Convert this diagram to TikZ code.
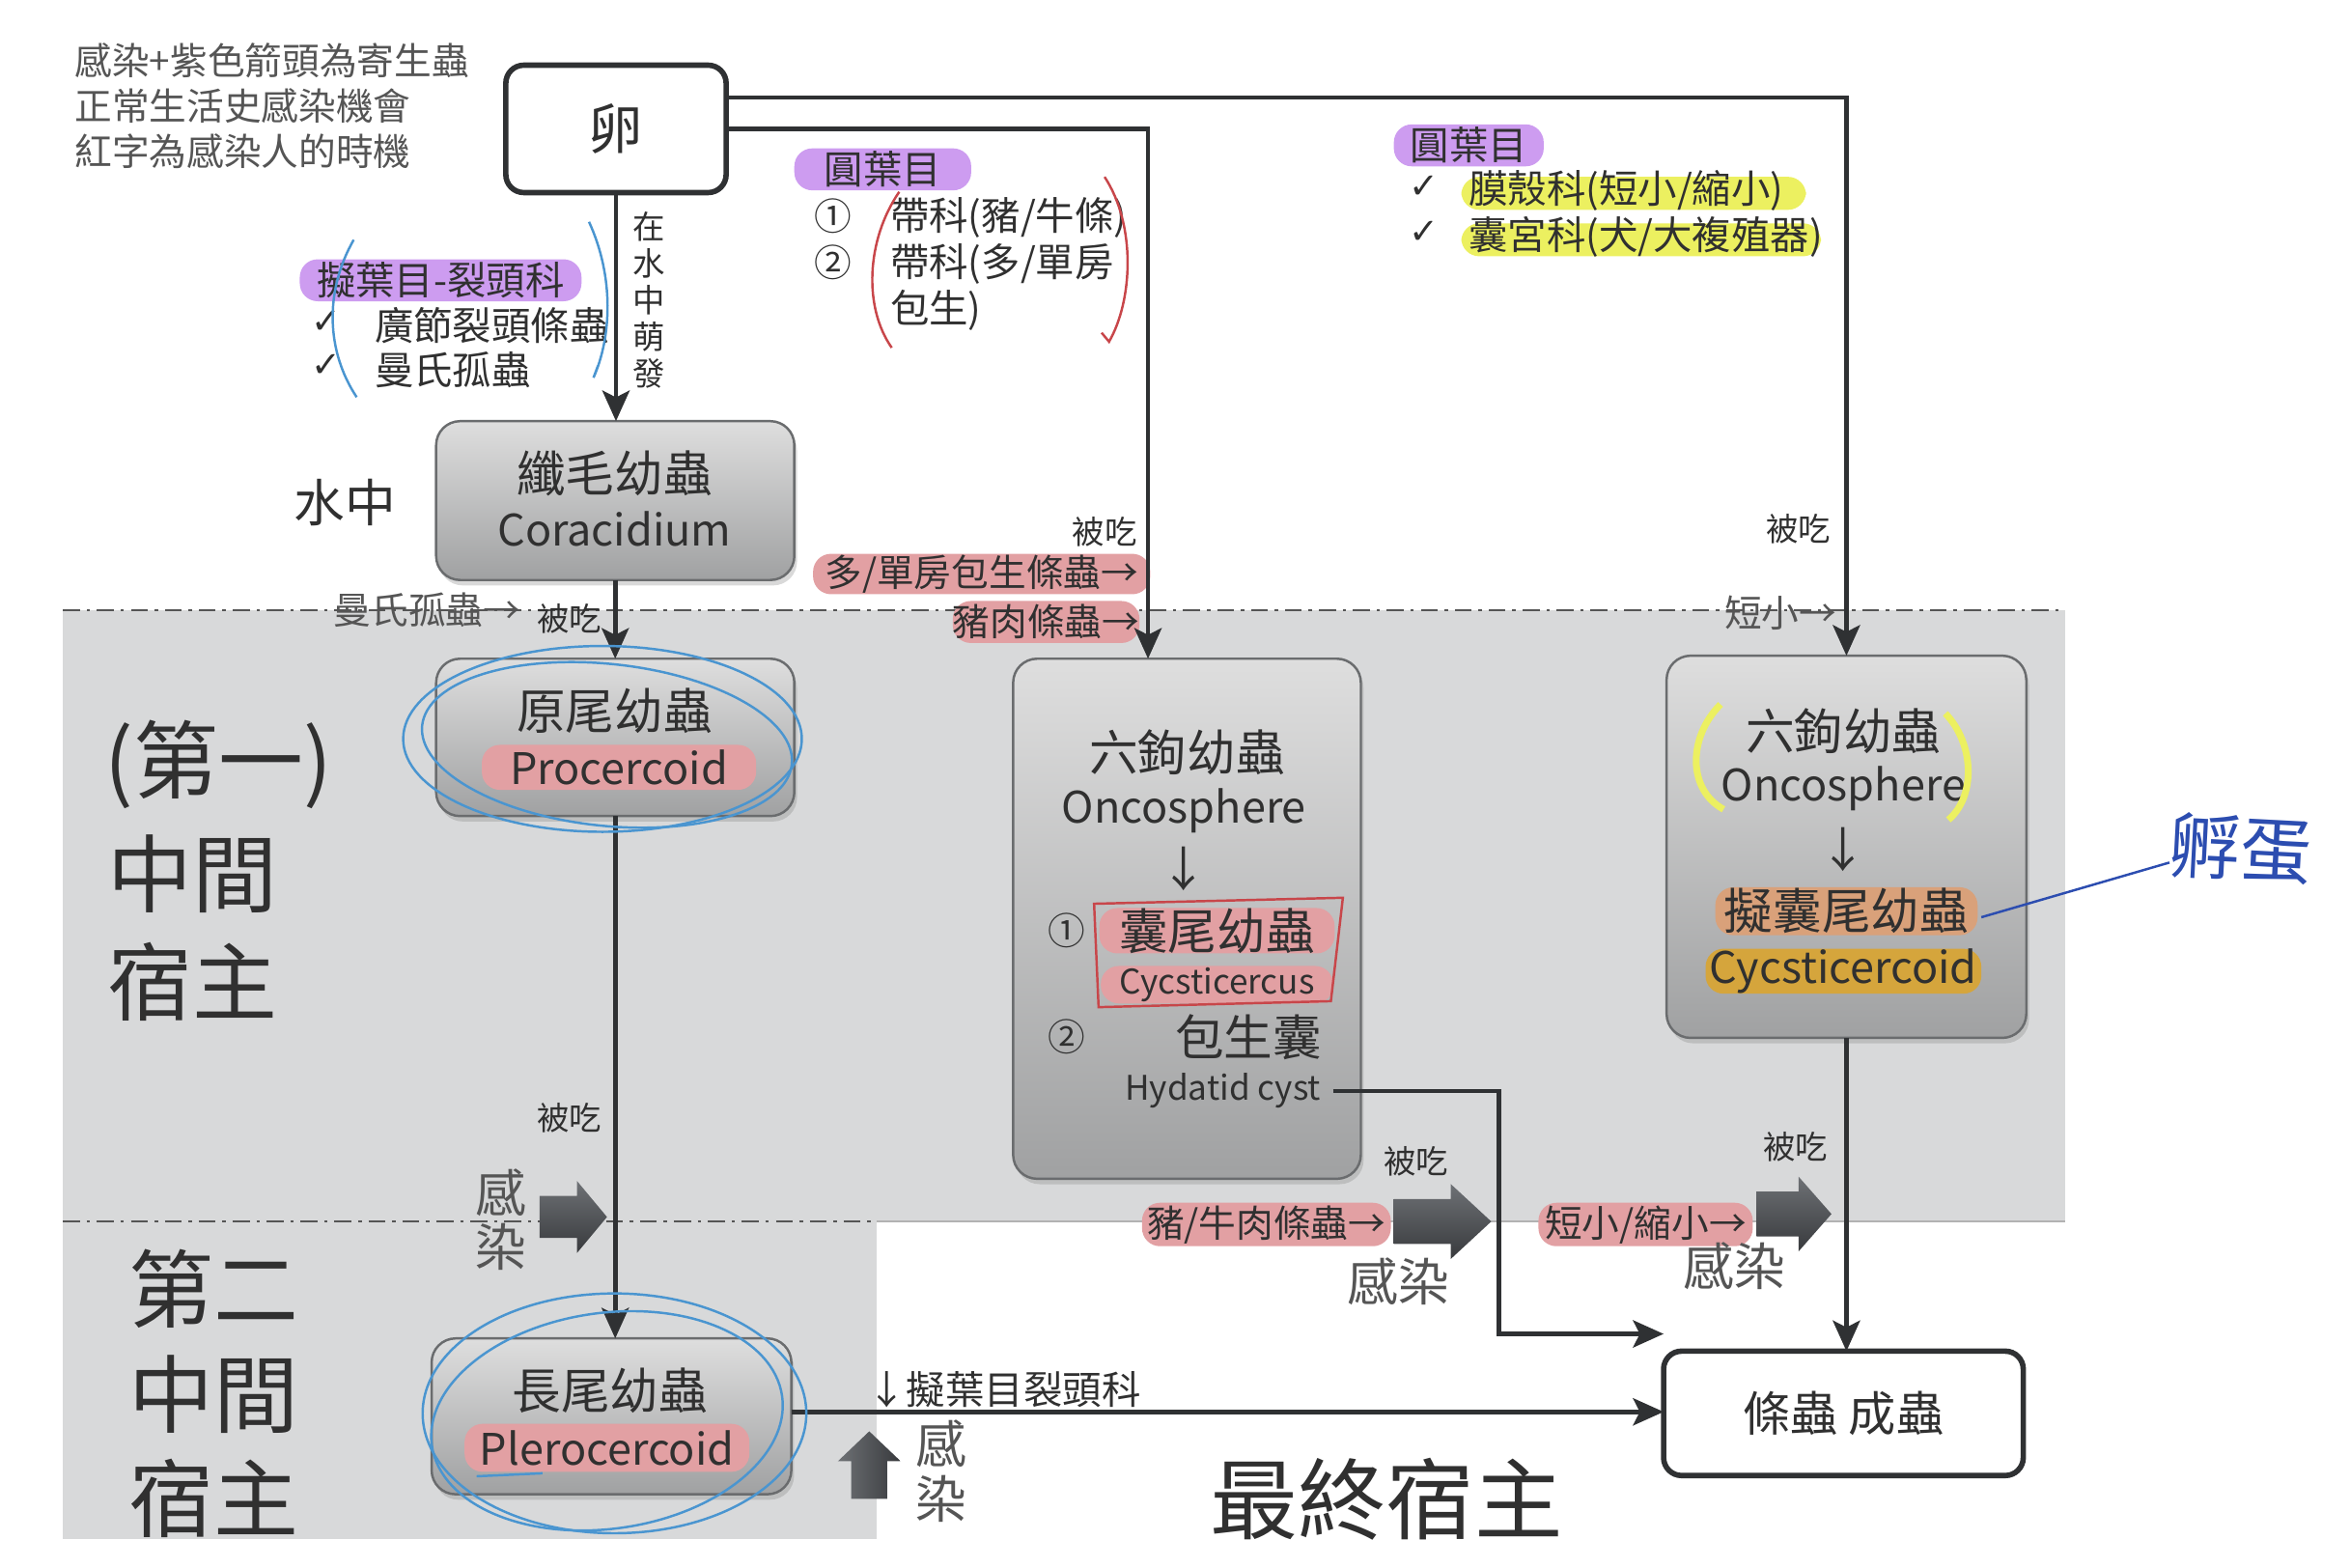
\documentclass[tikz,border=0pt]{standalone}
\usepackage{fontspec}
\setmainfont{Noto Sans CJK TC}
\newfontfamily\dejavu{DejaVu Sans}
\usetikzlibrary{arrows.meta,shadows}
\definecolor{txt}{HTML}{303030}
\definecolor{soft}{HTML}{555555}
\definecolor{bgc}{HTML}{D8D9DA}
\definecolor{linec}{HTML}{2F3133}
\definecolor{boxtop}{HTML}{DEDEDE}
\definecolor{boxbot}{HTML}{A0A1A2}
\definecolor{boxedge}{HTML}{6A6C6E}
\definecolor{pinkhl}{HTML}{E2A0A3}
\definecolor{purphl}{HTML}{CD9CF0}
\definecolor{yelhl}{HTML}{ECF060}
\definecolor{orahl}{HTML}{D9A17A}
\definecolor{goldhl}{HTML}{D5A53C}
\definecolor{penblue}{HTML}{4A95D0}
\definecolor{inkblue}{HTML}{2C4DB0}
\definecolor{redpen}{HTML}{C8464A}
\definecolor{bartop}{HTML}{6E7175}
\definecolor{barbot}{HTML}{383A3D}
\newlength\pu
\setlength\pu{0.015523cm}
\newcommand\fs[2]{\fontsize{#1}{#2}\selectfont}
\newcommand\blockR[6]{\shade[top color=bartop,bottom color=barbot] (#1-#3,#2-#6/2) -- (#1-#4,#2-#6/2) -- (#1-#4,#2-#5/2) -- (#1,#2) -- (#1-#4,#2+#5/2) -- (#1-#4,#2+#6/2) -- (#1-#3,#2+#6/2) -- cycle;}
\newcommand\blockU[6]{\shade[left color=bartop,right color=barbot] (#1-#6/2,#2+#3) -- (#1-#6/2,#2+#4) -- (#1-#5/2,#2+#4) -- (#1,#2) -- (#1+#5/2,#2+#4) -- (#1+#6/2,#2+#4) -- (#1+#6/2,#2+#3) -- cycle;}
\tikzset{
  every node/.style={text=txt, inner sep=0pt, outer sep=0pt},
  arr/.style={draw=linec, line width=1.3pt, -{Stealth[length=9pt,width=8pt,inset=2pt]}},
  ddline/.style={draw=soft, line width=0.6pt, dash pattern=on 5pt off 2pt on 1pt off 2pt},
  gbox/.style={draw=boxedge, line width=0.7pt, rounded corners=16\pu, top color=boxtop, bottom color=boxbot, drop shadow={opacity=0.3, shadow xshift=0.8pt, shadow yshift=-1.6pt}},
  wbox/.style={draw=linec, line width=1.6pt, rounded corners=12\pu, fill=white},
  hl/.style={fill=#1, rounded corners=12\pu},
  pen/.style={draw=#1, line width=0.7pt},
  small/.style={font=\fs{9.5}{11}},
  lab/.style={font=\fs{11.5}{13}},
  big/.style={font=\fs{25}{30}},
  inf/.style={font=\fs{15}{18}, text=soft},
  chk/.style={font=\dejavu\fs{10.5}{12}},
  latin/.style={font=\fs{12.8}{15}},
}
\begin{document}
\begin{tikzpicture}[x=0.015523cm,y=-0.015523cm]
\useasboundingbox (0,0) rectangle (1568,1046);
\begin{scope}
\clip (0,0) rectangle (1568,1027);
% background regions
\fill[bgc] (42,407) rectangle (1378,815);
\fill[bgc] (42,815) rectangle (585,1027);
\draw[ddline] (42,407) -- (1378,407);
\draw[ddline] (42,815) -- (585,815);
\draw[draw=gray!60, line width=0.5pt] (585,815) -- (1378,815);

% top-left note
\node[anchor=north west, align=left, text=soft, font=\fs{11}{13.3}] (note) at (50,29) {感染+紫色箭頭為寄生蟲\\正常生活史感染機會\\紅字為感染人的時機};

% main boxes
\node[wbox, minimum width=147\pu, minimum height=85\pu, font=\fs{16}{19}] (egg) at (411,86) {卵};
\node[gbox, minimum width=239\pu, minimum height=106\pu] (cora) at (410.5,334) {};
\node[gbox, minimum width=239\pu, minimum height=105\pu] (proc) at (410.5,492) {};
\node[gbox, minimum width=240\pu, minimum height=104\pu] (pler) at (408,945) {};
\node[gbox, minimum width=232\pu, minimum height=347\pu] (onco1) at (792,613) {};
\node[gbox, minimum width=240\pu, minimum height=255\pu] (onco2) at (1232,565) {};
\node[wbox, minimum width=240\pu, minimum height=83\pu, font=\fs{14}{17}] (adult) at (1230,943) {條蟲 成蟲};

% box contents
\node[font=\fs{14.4}{17}] (cora1) at (410,316) {纖毛幼蟲};
\node[latin] (cora2) at (410,353) {Coracidium};
\node[font=\fs{14.4}{17}] (proc1) at (410,474) {原尾幼蟲};
\node[hl=pinkhl, minimum width=183\pu, minimum height=30\pu, latin] (proc2) at (413,512) {Procercoid};
\node[font=\fs{14.4}{17}] (pler1) at (407,928) {長尾幼蟲};
\node[hl=pinkhl, minimum width=190\pu, minimum height=32\pu, latin] (pler2) at (405,966) {Plerocercoid};

\node[font=\fs{14.4}{17}] (o1a) at (792,502) {六鉤幼蟲};
\node[latin] (o1b) at (790,541) {Oncosphere};
\node[font=\fs{14}{16}] (o1c) at (790,580) {↓};
\node[font=\fs{11}{13}] (o1n1) at (712,621) {①};
\node[hl=pinkhl, minimum width=157\pu, minimum height=30\pu, font=\fs{14.4}{17}] (cys1) at (812,621) {囊尾幼蟲};
\node[hl=pinkhl, minimum width=155\pu, minimum height=25\pu, font=\fs{10}{12}] (cys2) at (812,657) {Cycsticercus};
\node[font=\fs{11}{13}] (o1n2) at (712,692) {②};
\node[font=\fs{14.4}{17}] (hyd1) at (833,692) {包生囊};
\node[font=\fs{10}{12}] (hyd) at (816,728) {Hydatid cyst};

\node[font=\fs{14.4}{17}] (o2a) at (1230,488) {六鉤幼蟲};
\node[latin] (o2b) at (1230,526) {Oncosphere};
\node[font=\fs{14}{16}] (o2c) at (1230,567) {↓};
\node[hl=orahl, minimum width=175\pu, minimum height=32\pu, font=\fs{14.4}{17}] (cyd1) at (1232,608) {擬囊尾幼蟲};
\node[hl=goldhl, minimum width=184\pu, minimum height=30\pu, latin] (cyd2) at (1230,648) {Cycsticercoid};

% lists
\node[hl=purphl, minimum width=188\pu, minimum height=28\pu, lab] (ord1) at (294,187) {擬葉目-裂頭科};
\node[chk] (ck1) at (218,215) {✓};
\node[anchor=west, lab] (sp1) at (250,217) {廣節裂頭條蟲};
\node[chk] (ck2) at (218,244) {✓};
\node[anchor=west, lab] (sp2) at (250,247) {曼氏孤蟲};

\node[hl=purphl, minimum width=118\pu, minimum height=28\pu, lab] (ord2) at (589,113) {圓葉目};
\node[font=\fs{11}{13}] (c1) at (556,144) {①};
\node[font=\fs{11}{13}] (c2) at (556,175) {②};
\node[anchor=west, lab] (t1) at (594,145) {帶科(豬/牛條)};
\node[anchor=west, lab] (t2) at (594,176) {帶科(多/單房};
\node[anchor=west, lab] (t3) at (594,207) {包生)};

\node[hl=yelhl, minimum width=230\pu, minimum height=22\pu] (y1) at (1090,129) {};
\node[hl=yelhl, minimum width=240\pu, minimum height=22\pu] (y2) at (1095,160) {};
\node[hl=purphl, minimum width=100\pu, minimum height=28\pu, lab] (ord3) at (980,97) {圓葉目};
\node[chk] (ck3) at (950,125) {✓};
\node[chk] (ck4) at (950,155) {✓};
\node[anchor=west, lab] (t4) at (980,127) {膜殼科(短小/縮小)};
\node[anchor=west, lab] (t5) at (980,158) {囊宮科(犬/大複殖器)};

% side labels
\node[align=center, font=\fs{9.5}{10.8}] (v1) at (433,200) {在\\水\\中\\萌\\發};
\node[font=\fs{15}{18}] (water) at (230,335) {水中};
\node[anchor=west, big] (h1a) at (70,510) {(第一)};
\node[anchor=west, big] (h1b) at (72,583) {中間};
\node[anchor=west, big] (h1c) at (72,655) {宿主};
\node[anchor=west, big] (h2a) at (86,860) {第二};
\node[anchor=west, big] (h2b) at (86,930) {中間};
\node[anchor=west, big] (h2c) at (86,1000) {宿主};
\node[font=\fs{26}{30}] (fin) at (925,1000) {最終宿主};

% small labels
\node[small] (e1) at (380,413) {被吃};
\node[small] (e2) at (737,355) {被吃};
\node[small] (e3) at (1200,353) {被吃};
\node[small] (e4) at (380,746) {被吃};
\node[small] (e5) at (945,775) {被吃};
\node[small] (e6) at (1198,765) {被吃};
\node[font=\fs{11}{13}, text=soft] (m1) at (285,407) {曼氏孤蟲→};
\node[font=\fs{11}{13}, text=soft] (m2) at (1188,409) {短小→};
\node[hl=pinkhl, minimum width=225\pu, minimum height=27\pu, font=\fs{11}{13}] (pk1) at (655,383) {多/單房包生條蟲→};
\node[hl=pinkhl, minimum width=122\pu, minimum height=28\pu, font=\fs{11}{13}] (pk2) at (698,415) {豬肉條蟲→};
\node[hl=pinkhl, minimum width=166\pu, minimum height=29\pu, font=\fs{11}{13}] (pk3) at (845,817) {豬/牛肉條蟲→};
\node[hl=pinkhl, minimum width=143\pu, minimum height=29\pu, font=\fs{11}{13}] (pk4) at (1098,817) {短小/縮小→};
\node[lab] (dn) at (670,927) {↓擬葉目裂頭科};
\node[inf] (i1a) at (334,796) {感};
\node[inf] (i1b) at (334,832) {染};
\node[inf] (i2a) at (628,963) {感};
\node[inf] (i2b) at (628,1000) {染};
\node[inf] (i3) at (933,855) {感染};
\node[inf] (i4) at (1157,845) {感染};

% block arrows
\blockR{405}{812}{45}{20}{48}{28}
\blockR{995}{815}{65}{27}{50}{30}
\blockR{1222}{810}{50}{22}{50}{30}
\blockU{580}{955}{45}{20}{42}{24}

% connectors
\draw[arr] (egg.south) -- (egg.south |- cora.north);
\draw[arr] (egg.east |- 0,65) -| (onco2.north);
\draw[arr] (egg.east |- 0,86) -| (onco1.north -| 766,0);
\draw[arr] (cora.south) -- (proc.north);
\draw[arr] (proc.south) -- (proc.south |- pler.north);
\draw[arr] (pler.east |- 0,942) -- (adult.west |- 0,942);
\coordinate (hyk) at (1000,890);
\draw[arr] ([xshift=8\pu]hyd.east) -| (hyk) -- (hyk -| adult.west);
\draw[arr] (onco2.south) -- (onco2.south |- adult.north);

% hand annotations
\draw[pen=penblue] (236,160) .. controls (216,195) and (218,235) .. (238,265);
\draw[pen=penblue] (393,148) .. controls (410,185) and (408,225) .. (396,252) -- (399,244);
\draw[pen=redpen] (600,128) .. controls (578,160) and (576,205) .. (595,232);
\draw[pen=redpen] (737,118) .. controls (758,150) and (756,200) .. (740,228) -- (735,222);
\draw[pen=redpen] (730,603) -- (896,599) -- (888,668) -- (733,672) -- cycle;
\draw[pen=penblue] (402,493) ellipse [x radius=133, y radius=62];
\draw[pen=penblue, rotate around={-6:(405,497)}] (405,497) ellipse [x radius=124, y radius=54];
\draw[pen=penblue] (410,943) ellipse [x radius=128, y radius=80];
\draw[pen=penblue, rotate around={8:(405,948)}] (405,948) ellipse [x radius=118, y radius=72];
\draw[pen=penblue] (318,985) -- (362,983);
\draw[draw=yelhl, line width=2pt] (1148,470) .. controls (1126,492) and (1126,527) .. (1150,540);
\draw[draw=yelhl, line width=2pt] (1298,476) .. controls (1318,497) and (1318,532) .. (1300,547);
\node[text=inkblue, font=\fs{21}{24}, rotate=-3] (hand) at (1495,566) {孵蛋};
\draw[pen=inkblue] (1322,612) -- ([yshift=-12\pu]hand.west);
\end{scope}
\end{tikzpicture}
\end{document}
